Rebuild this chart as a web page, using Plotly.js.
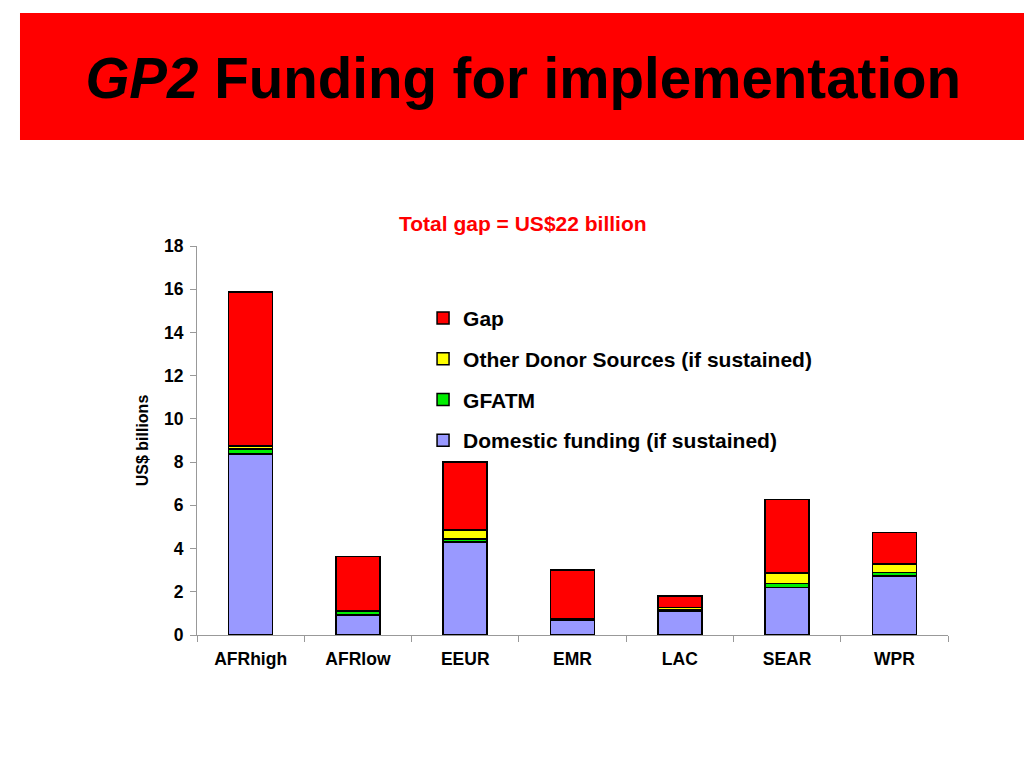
<!DOCTYPE html>
<html>
<head>
<meta charset="utf-8">
<script src="https://cdn.plot.ly/plotly-3.0.1.min.js"></script>
<style>html,body{margin:0;padding:0;background:#fff;}#chart{width:1024px;height:768px;}</style>
</head>
<body>
<div id="chart"></div>
<script>
const categories = ["AFRhigh", "AFRlow", "EEUR", "EMR", "LAC", "SEAR", "WPR"];
const domestic = [8.38, 0.93, 4.30, 0.69, 1.11, 2.19, 2.73];
const gfatm    = [0.23, 0.19, 0.14, 0.05, 0.05, 0.20, 0.16];
const otherDonor = [0.14, 0.00, 0.43, 0.00, 0.12, 0.47, 0.40];
const gap      = [7.13, 2.51, 3.13, 2.26, 0.52, 3.42, 1.45];
const yTicks = [0, 2, 4, 6, 8, 10, 12, 14, 16, 18];

const line = {color: "#000", width: 1.5};
function tr(name, y, color, group, rank) {
  return {type: "bar", name: name, x: categories, y: y, legendgroup: group, legendrank: rank,
    marker: {color: color, line: line}, width: 0.41};
}
const data = [
  tr("Domestic funding (if sustained)", domestic, "#9999FF", "a", 4),
  tr("GFATM", gfatm, "#00EE00", "b", 3),
  tr("Other Donor Sources (if sustained)", otherDonor, "#FFFF00", "c", 2),
  tr("Gap", gap, "#FF0000", "d", 1)
];
const fam = "Liberation Sans, Arial, sans-serif";
const layout = {
  width: 1024, height: 768,
  margin: {l: 197, r: 76, t: 246, b: 133},
  barmode: "stack",
  paper_bgcolor: "#fff", plot_bgcolor: "#fff",
  font: {family: fam, color: "#000"},
  showlegend: true,
  title: {text: "<b><i>GP2</i> Funding for implementation</b>", font: {family: fam, size: 56.5, color: "#000"},
    x: 0.511, xanchor: "center", y: 0.898, yanchor: "middle"},
  legend: {x: 0.301, y: 0.867, xanchor: "left", yanchor: "top", traceorder: "grouped",
    tracegroupgap: 10.5, font: {family: fam, size: 21, color: "#000", weight: "bold"},
    bgcolor: "rgba(0,0,0,0)", itemwidth: 30},
  xaxis: {tickson: "boundaries", ticks: "outside", ticklen: 6, tickcolor: "#999", showline: true,
    linecolor: "#999", linewidth: 1, showgrid: false, ticklabelstandoff: 8,
    tickfont: {family: fam, size: 17.5, color: "#000", weight: "bold"}},
  yaxis: {range: [0, 18], tickvals: yTicks, ticktext: yTicks.map(String), ticks: "outside", ticklen: 6,
    tickcolor: "#999", showline: true, linecolor: "#999", linewidth: 1, showgrid: false, zeroline: false,
    ticklabelstandoff: 3,
    tickfont: {family: fam, size: 17.5, color: "#000", weight: "bold"},
    title: {text: "<b>US$ billions</b>", font: {family: fam, size: 16, color: "#000"}, standoff: 11}},
  shapes: [{type: "rect", xref: "paper", yref: "paper", x0: -0.2357, x1: 1.102, y0: 1.2725, y1: 1.599,
    fillcolor: "#FF0000", line: {width: 0}, layer: "below"}],
  annotations: [{text: "<b>Total gap = US$22 billion</b>", xref: "paper", yref: "paper", x: 0.434, y: 1.0566,
    xanchor: "center", yanchor: "middle", showarrow: false, font: {family: fam, size: 21, color: "#FF0000"}}]
};
Plotly.newPlot("chart", data, layout, {displayModeBar: false});
</script>
</body>
</html>
